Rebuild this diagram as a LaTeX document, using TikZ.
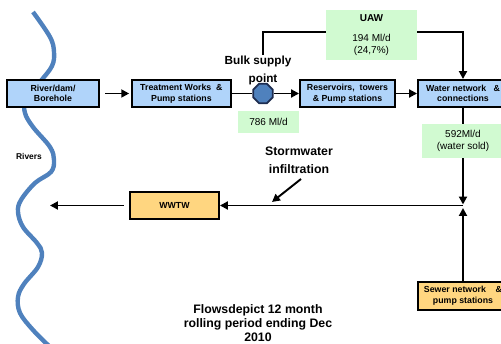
\documentclass[tikz,border=0pt]{standalone}
\usepackage{fontspec}
\setmainfont{Liberation Sans}
\usetikzlibrary{shapes.geometric,arrows.meta,positioning}
\definecolor{boxblue}{RGB}{176,212,250}
\definecolor{flowgreen}{RGB}{209,250,209}
\definecolor{wworange}{RGB}{255,214,128}
\definecolor{riverblue}{RGB}{79,129,189}
\definecolor{hubedge}{RGB}{30,45,80}

\begin{document}
\begin{tikzpicture}[
    x=0.02cm, y=-0.02cm,
    box/.style={draw, line width=1.1pt, fill=boxblue, minimum width=1.84cm, minimum height=0.54cm, align=center, inner sep=1pt, font=\fontsize{5}{6}\selectfont\bfseries},
    sewbox/.style={box, fill=wworange},
    flowbox/.style={fill=flowgreen, align=center, inner sep=1pt, font=\fontsize{5.7}{6.8}\selectfont},
    lbl/.style={align=center, inner sep=0pt, font=\fontsize{6.7}{8}\selectfont\bfseries},
    arrow/.style={-{Triangle[length=4.5pt,width=4.5pt]}, line width=1.1pt},
    line/.style={line width=1.1pt}
]
\clip (0,0) rectangle (501,344);
% river
\draw[riverblue, line width=2.5pt] plot[smooth, tension=0.6] coordinates {(33,12) (50,37) (54,52) (52,66) (40,82) (26,100) (25,113) (33,127) (50,147) (54,160) (51,172) (35,183) (21,200) (18,212) (23,227) (37,243) (42,253) (38,267) (24,284) (18,297) (20,313) (33,330) (49,346)};
\node[lbl, font=\fontsize{4.8}{6}\selectfont\bfseries] (rivers) at (29,156) {Rivers};

% supply chain
\node[box] (source) at (53,93.5) {River/dam/\\Borehole};
\node[box, minimum width=1.98cm, right=0.62cm of source] (treat) {Treatment Works\ \ \&\\Pump stations};
\node[regular polygon, regular polygon sides=8, draw=hubedge, line width=1pt, fill=riverblue, minimum size=0.42cm, inner sep=0pt] (hub) at (263,93.5) {};
\node[box, minimum width=1.9cm] (res) at (347.5,93.5) {Reservoirs,\ \ towers\\\&\ Pump stations};
\node[box, minimum width=1.8cm] (water) at (463,93.5) {Water network\ \ \ \&\\connections};

\node[lbl] (bsp) at (258,61) {Bulk supply};
\node[lbl] (pnt) at (263,79) {point};
\node[flowbox, minimum width=1.22cm, minimum height=0.44cm] (bulkflow) at (268.5,122) {786 Ml/d};
\node[flowbox, minimum width=1.82cm, minimum height=1cm] (uaw) at (371.5,35) {\textbf{UAW}\\[4.5pt]194 Ml/d\\(24,7\%)};
\node[flowbox, minimum width=1.64cm, minimum height=0.68cm] (sold) at (463,141) {592Ml/d\\(water sold)};

% return flows
\node[sewbox, minimum width=1.78cm] (wwtw) at (174.5,205.5) {WWTW};
\node[sewbox, minimum width=1.8cm, minimum height=0.56cm] (sewer) at (463,296) {Sewer network\ \ \ \ \&\\pump stations};
\node[lbl, font=\fontsize{7}{10}\selectfont\bfseries] (storm) at (299,160) {Stormwater\\infiltration};
\node[lbl, font=\fontsize{7}{8}\selectfont\bfseries] (note) at (258,323) {Flowsdepict 12 month\\rolling period ending Dec\\2010};

\coordinate (jn) at (463,205.5);
\coordinate (outfall) at (50,205.5);
\coordinate (sw0) at (301,179);
\coordinate (sw1) at (272,202);

\draw[arrow, shorten <=3pt, shorten >=1pt] (source) -- (treat);
\draw[line] (treat) -- (hub);
\draw[arrow] (hub) -- (res);
\draw[arrow] (res) -- (water);
\draw[line] (hub.north |- bsp.north) |- ([yshift=0.06cm]uaw.west);
\draw[arrow] ([yshift=0.06cm]uaw.east) -| (water.north);
\draw[line] (water) -- (sold);
\draw[arrow] (sold) -- ([yshift=0.02cm]jn);
\draw[arrow] (sewer) -- ([yshift=-0.05cm]jn);
\draw[arrow] (jn) -- (wwtw);
\draw[arrow, shorten <=3pt] (wwtw) -- (outfall);
\draw[arrow] (sw0) -- (sw1);
\end{tikzpicture}
\end{document}
